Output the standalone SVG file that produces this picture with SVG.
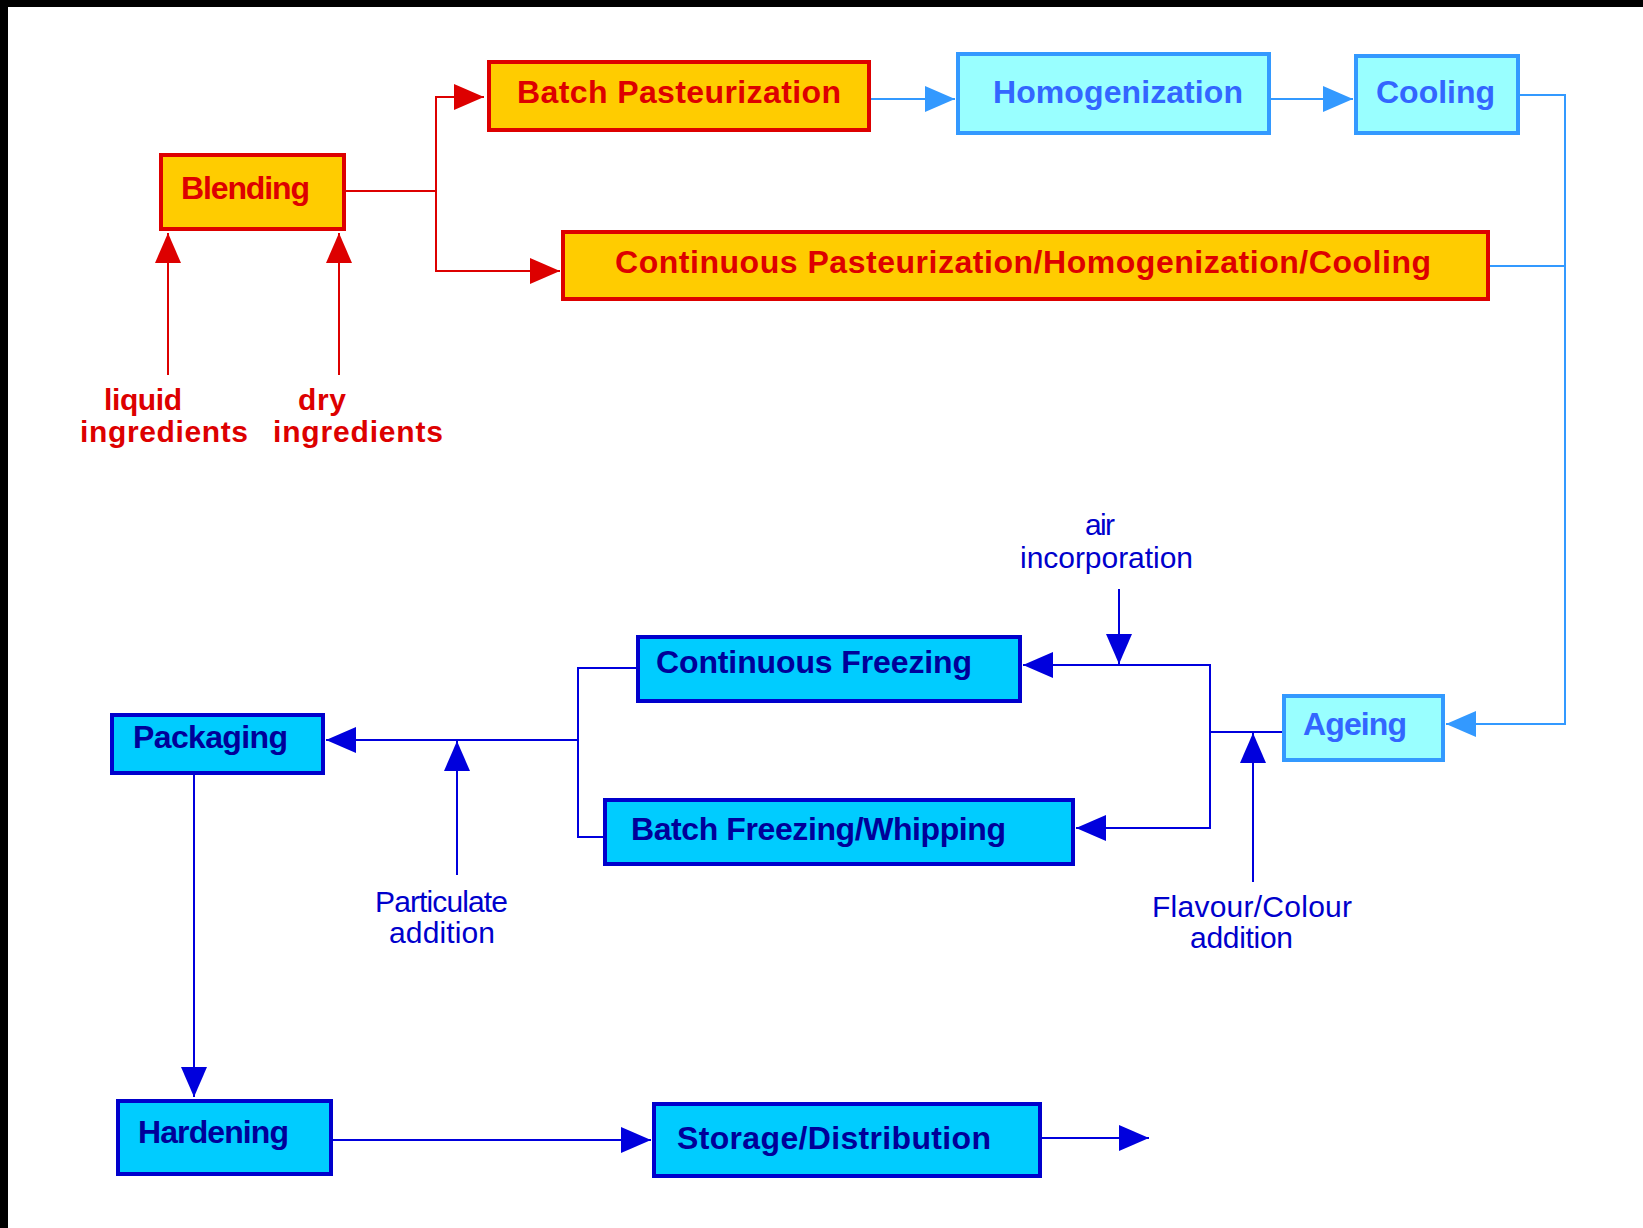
<svg xmlns="http://www.w3.org/2000/svg" width="1643" height="1228" viewBox="0 0 1643 1228">
<style>
text{font-family:"Liberation Sans",Arial,sans-serif;font-size:30px}
.b{font-weight:bold;font-size:32px}
.b.lr{font-size:30px}
.red rect{fill:#ffcc00;stroke:#dd0000;stroke-width:4}
.red text{fill:#dd0000}
.lb rect{fill:#99ffff;stroke:#3399ff;stroke-width:4}
.lb text{fill:#3366ff}
.db rect{fill:#00ccff;stroke:#0000cc;stroke-width:4}
.db text{fill:#000099}
.cr{fill:none;stroke:#dd0000;stroke-width:2}
.cl{fill:none;stroke:#3399ff;stroke-width:2}
.cb{fill:none;stroke:#0000dd;stroke-width:2}
.lr{fill:#dd0000}
.lbl{fill:#0000cc}
</style>
<defs>
<marker id="ar" viewBox="0 0 30 26" refX="30" refY="13" markerWidth="30" markerHeight="26" markerUnits="userSpaceOnUse" orient="auto"><path d="M0,0 L30,13 L0,26 Z" fill="#dd0000"/></marker>
<marker id="al" viewBox="0 0 30 26" refX="30" refY="13" markerWidth="30" markerHeight="26" markerUnits="userSpaceOnUse" orient="auto"><path d="M0,0 L30,13 L0,26 Z" fill="#3399ff"/></marker>
<marker id="ab" viewBox="0 0 30 26" refX="30" refY="13" markerWidth="30" markerHeight="26" markerUnits="userSpaceOnUse" orient="auto"><path d="M0,0 L30,13 L0,26 Z" fill="#0000dd"/></marker>
</defs>
<rect x="0" y="0" width="1643" height="1228" fill="#ffffff"/>
<rect x="0" y="0" width="1643" height="7" fill="#000000"/>
<rect x="0" y="0" width="8" height="1228" fill="#000000"/>

<g id="connectors">
<path class="cr" d="M346,191 H436"/>
<path class="cr" d="M436,191 V97 H484" marker-end="url(#ar)"/>
<path class="cr" d="M436,191 V271 H560" marker-end="url(#ar)"/>
<path class="cr" d="M168,375 V233" marker-end="url(#ar)"/>
<path class="cr" d="M339,375 V233" marker-end="url(#ar)"/>
<path class="cl" d="M871,99 H955" marker-end="url(#al)"/>
<path class="cl" d="M1271,99 H1353" marker-end="url(#al)"/>
<path class="cl" d="M1520,95 H1565 V724 H1446" marker-end="url(#al)"/>
<path class="cl" d="M1490,266 H1565"/>
<path class="cb" d="M1282,732 H1210"/>
<path class="cb" d="M1210,732 V665 H1023" marker-end="url(#ab)"/>
<path class="cb" d="M1210,732 V828 H1076" marker-end="url(#ab)"/>
<path class="cb" d="M1119,589 V664" marker-end="url(#ab)"/>
<path class="cb" d="M1253,882 V733" marker-end="url(#ab)"/>
<path class="cb" d="M636,668 H578 V837 H604"/>
<path class="cb" d="M578,740 H326" marker-end="url(#ab)"/>
<path class="cb" d="M457,875 V741" marker-end="url(#ab)"/>
<path class="cb" d="M194,775 V1097" marker-end="url(#ab)"/>
<path class="cb" d="M333,1140 H651" marker-end="url(#ab)"/>
<path class="cb" d="M1042,1138 H1149" marker-end="url(#ab)"/>
</g>

<g id="blending" class="red"><rect x="161" y="155" width="183" height="74"/><text class="b" x="181" y="199" textLength="129">Blending</text></g>
<g id="batch-pasteurization" class="red"><rect x="489" y="62" width="380" height="68"/><text class="b" x="517" y="103" textLength="324">Batch Pasteurization</text></g>
<g id="homogenization" class="lb"><rect x="958" y="54" width="311" height="79"/><text class="b" x="993" y="103" textLength="250">Homogenization</text></g>
<g id="cooling" class="lb"><rect x="1356" y="56" width="162" height="77"/><text class="b" x="1376" y="103" textLength="119">Cooling</text></g>
<g id="continuous-phc" class="red"><rect x="563" y="232" width="925" height="67"/><text class="b" x="615" y="273" textLength="816">Continuous Pasteurization/Homogenization/Cooling</text></g>
<g id="ageing" class="lb"><rect x="1284" y="696" width="159" height="64"/><text class="b" x="1303" y="735" textLength="104">Ageing</text></g>
<g id="continuous-freezing" class="db"><rect x="638" y="637" width="382" height="64"/><text class="b" x="656" y="673" textLength="316">Continuous Freezing</text></g>
<g id="batch-freezing" class="db"><rect x="605" y="800" width="468" height="64"/><text class="b" x="631" y="840" textLength="375">Batch Freezing/Whipping</text></g>
<g id="packaging" class="db"><rect x="112" y="715" width="211" height="58"/><text class="b" x="133" y="748" textLength="155">Packaging</text></g>
<g id="hardening" class="db"><rect x="118" y="1101" width="213" height="73"/><text class="b" x="138" y="1143" textLength="151">Hardening</text></g>
<g id="storage" class="db"><rect x="654" y="1104" width="386" height="72"/><text class="b" x="677" y="1149" textLength="314">Storage/Distribution</text></g>

<g id="liquid-ingredients"><text class="b lr" x="104" y="410" textLength="78">liquid</text><text class="b lr" x="80" y="442" textLength="168">ingredients</text></g>
<g id="dry-ingredients"><text class="b lr" x="298" y="410" textLength="48">dry</text><text class="b lr" x="273" y="442" textLength="170">ingredients</text></g>
<g id="air-incorporation"><text class="lbl" x="1085" y="535" textLength="30">air</text><text class="lbl" x="1020" y="568" textLength="173">incorporation</text></g>
<g id="particulate-addition"><text class="lbl" x="375" y="912" textLength="133">Particulate</text><text class="lbl" x="389" y="943" textLength="106">addition</text></g>
<g id="flavour-addition"><text class="lbl" x="1152" y="917" textLength="200">Flavour/Colour</text><text class="lbl" x="1190" y="948" textLength="103">addition</text></g>
</svg>
